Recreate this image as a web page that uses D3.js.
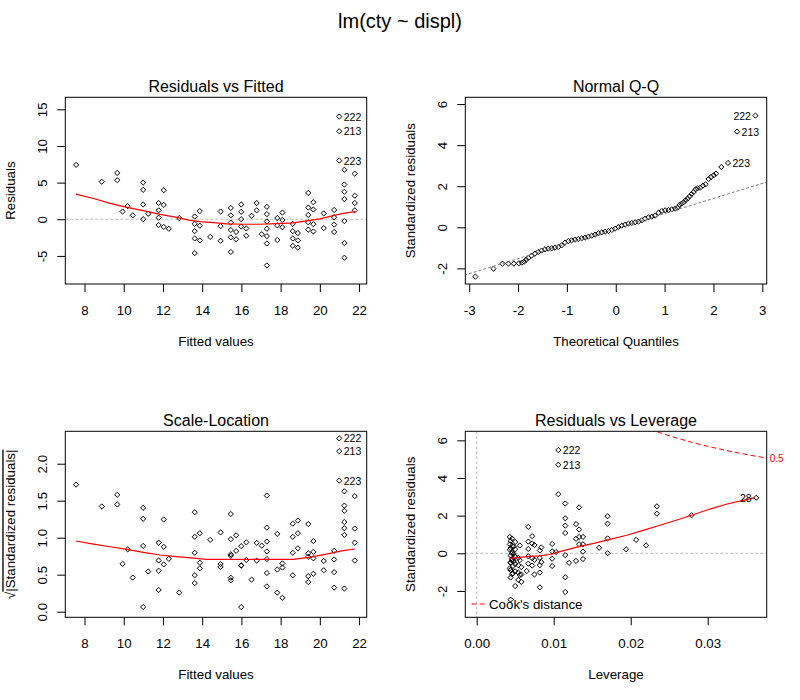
<!DOCTYPE html>
<html><head><meta charset="utf-8">
<script src="https://cdn.jsdelivr.net/npm/d3@7"></script>
<style>body{margin:0;background:#fff}</style>
</head><body><svg id="c" width="800" height="700"></svg>
<script>
// ---- data ----
const fittedCols = [7.57, 8.88, 9.67, 9.94, 10.20, 10.46, 10.99, 11.25, 11.78, 12.04, 12.30, 12.83, 13.62, 13.88, 14.41, 14.94, 15.46, 15.73, 15.99, 16.25, 16.52, 16.78, 17.04, 17.30, 17.83, 18.09, 18.62, 18.88, 19.41, 19.67, 20.20, 20.73, 20.99, 21.25, 21.78];
const leverageCols = [0.0363, 0.0279, 0.0234, 0.0220, 0.0207, 0.0194, 0.0170, 0.0159, 0.0138, 0.0129, 0.0120, 0.0103, 0.0082, 0.0075, 0.0065, 0.0056, 0.0050, 0.0047, 0.0046, 0.0044, 0.0043, 0.0043, 0.0043, 0.0044, 0.0046, 0.0048, 0.0054, 0.0058, 0.0067, 0.0072, 0.0084, 0.0098, 0.0106, 0.0115, 0.0133];
const residualsByCol = [
  [7.43], [5.12], [6.33, 5.33], [1.06], [1.80], [0.54],
  [5.01, 4.01, 2.01, 0.01], [0.75], [2.22, 1.22, 0.22, -0.78], [3.96, 1.96, -1.04], [-1.30], [0.17],
  [0.38, -0.62, -1.62, -2.62, -4.62], [1.12, -0.88, -2.88], [-2.41], [1.06, -0.94, -2.94],
  [1.54, 0.54, -0.46, -1.46, -2.46, -4.46], [-1.73, -2.73], [2.01, 1.01, 0.01, -0.99], [-1.25, -2.25],
  [0.48], [2.22, 1.22], [-2.04], [1.70, 0.70, -0.30, -1.30, -2.30, -3.30, -6.30],
  [0.17, -0.83, -2.83], [0.91, -0.09, -1.09], [-0.62, -1.62, -2.62, -3.62], [-1.88, -2.88, -3.88],
  [3.59, 1.59, 0.59, -0.41, -1.41], [2.33, 1.33, -0.67, -1.67], [0.80, -1.20], [1.27, 0.27, -0.73, -1.73],
  [14.01, 12.01, 8.01], [6.75, 4.75, 3.75, 2.75, -0.25, -3.25, -5.25], [6.22, 3.22, 2.22, 1.22]
];
const sigma = 2.567; // residual standard error
const pointLabels = [ {text:"222", col:32, k:0}, {text:"213", col:32, k:1}, {text:"223", col:32, k:2} ];
const leverageLabels = [ {text:"222", col:32, k:0, side:"r"}, {text:"213", col:32, k:1, side:"r"}, {text:"28", col:0, k:0, side:"l"} ];

const rfSmoothX = [7.56, 8.46, 9.31, 10.16, 11.0, 11.85, 12.70, 13.38, 13.89, 14.74, 15.25, 16.10, 16.95, 17.80, 18.65, 19.32, 20.0, 20.68, 21.19, 21.79];
const rfSmoothY = [3.42, 2.84, 2.16, 1.62, 1.17, 0.68, 0.27, -0.14, -0.32, -0.50, -0.63, -0.68, -0.68, -0.59, -0.50, -0.23, 0.05, 0.50, 0.81, 1.04];
const slSmoothX = [7.56, 8.46, 9.31, 10.16, 11.0, 11.85, 12.70, 13.55, 14.23, 15.25, 16.95, 18.65, 19.15, 19.66, 20.34, 21.19, 21.79];
const slSmoothY = [0.955, 0.914, 0.878, 0.842, 0.802, 0.766, 0.743, 0.725, 0.707, 0.707, 0.707, 0.707, 0.725, 0.743, 0.779, 0.824, 0.847];
const rlSmoothX = [0.0042, 0.0065, 0.0082, 0.0097, 0.0104, 0.0117, 0.0134, 0.0152, 0.0173, 0.0195, 0.0216, 0.0238, 0.0260, 0.0281, 0.0303, 0.0325, 0.0346, 0.0361];
const rlSmoothY = [-0.28, -0.18, -0.14, -0.05, 0.05, 0.18, 0.37, 0.53, 0.74, 0.96, 1.22, 1.49, 1.77, 2.05, 2.35, 2.62, 2.81, 2.96];

const qqTheo = [-2.873, -2.503, -2.319, -2.196, -2.086, -1.984, -1.922, -1.874, -1.833, -1.792, -1.724, -1.655, -1.587, -1.518, -1.450, -1.382, -1.313, -1.245, -1.176, -1.108, -1.040, -0.971, -0.903, -0.834, -0.766, -0.698, -0.629, -0.561, -0.492, -0.424, -0.356, -0.287, -0.219, -0.150, -0.082, -0.014, 0.055, 0.123, 0.192, 0.260, 0.328, 0.397, 0.465, 0.534, 0.602, 0.670, 0.739, 0.807, 0.876, 0.944, 1.012, 1.081, 1.149, 1.218, 1.265, 1.306, 1.347, 1.389, 1.430, 1.471, 1.512, 1.553, 1.594, 1.635, 1.676, 1.731, 1.785, 1.840, 1.902, 1.949, 2.004, 2.052, 2.161, 2.298, 2.483, 2.859];
const qqStd = [-2.403, -2.013, -1.769, -1.769, -1.769, -1.753, -1.721, -1.672, -1.575, -1.494, -1.380, -1.282, -1.201, -1.136, -1.071, -1.039, -1.023, -0.990, -0.958, -0.877, -0.747, -0.666, -0.633, -0.601, -0.568, -0.536, -0.503, -0.455, -0.406, -0.357, -0.292, -0.244, -0.211, -0.179, -0.130, -0.065, 0.016, 0.081, 0.130, 0.179, 0.211, 0.244, 0.276, 0.341, 0.422, 0.487, 0.519, 0.568, 0.714, 0.795, 0.828, 0.844, 0.877, 0.909, 0.958, 1.088, 1.153, 1.218, 1.315, 1.396, 1.510, 1.623, 1.721, 1.851, 1.899, 1.932, 2.029, 2.094, 2.354, 2.451, 2.532, 2.614, 2.938, 3.133, 4.659, 5.438];
const qqLabels = [ {text:"223", i:73, side:"r"}, {text:"213", i:74, side:"r"}, {text:"222", i:75, side:"l"} ];
const qqLineX = [-3.2, 3.2];
const qqLineY = [-2.406, 2.286];

const cookLev = [0.0225, 0.0229, 0.024, 0.026, 0.028, 0.030, 0.032, 0.034, 0.036, 0.0377];
const cookStd = [6.59, 6.53, 6.377, 6.121, 5.892, 5.686, 5.500, 5.330, 5.175, 5.053];

const fittedTicks = [8, 10, 12, 14, 16, 18, 20, 22];
const residTicks = [-5, 0, 5, 10, 15];
const qqXTicks = [-3, -2, -1, 0, 1, 2, 3];
const stdTicks = [-2, 0, 2, 4, 6];
const slTicks = [0, 0.5, 1.0, 1.5, 2.0];
const levTicks = [0, 0.01, 0.02, 0.03];

// ---- drawing ----
const FONT = "'Liberation Sans', Arial, sans-serif";
const svg = d3.select("#c");
svg.append("rect").attr("width", 800).attr("height", 700).attr("fill", "#fff");

const points = [];
residualsByCol.forEach((rs, c) => rs.forEach((r, k) => {
  const h = leverageCols[c];
  const sr = r / (sigma * Math.sqrt(1 - h));
  points.push({c, k, fitted: fittedCols[c], lev: h, resid: r, std: sr, sl: Math.sqrt(Math.abs(sr))});
}));
const findPt = (c, k) => points.find(p => p.c === c && p.k === k);

// R-style formatting (ASCII hyphen minus)
const fmtInt = v => String(v);
const fmt1 = v => v.toFixed(1);
const fmt2 = v => v.toFixed(2);

function diamond(sel, xs, ys) {
  sel.attr("d", "M-2.6,0L0,-2.6L2.6,0L0,2.6Z")
    .attr("transform", d => `translate(${xs(d)},${ys(d)})`)
    .attr("fill", "none").attr("stroke", "#000").attr("stroke-width", 1);
}

let clipId = 0;
function makePanel(p) {
  const x = d3.scaleLinear().domain(p.xDom).range([p.left, p.right]);
  const y = d3.scaleLinear().domain(p.yDom).range([p.bottom, p.top]);
  const g = svg.append("g");
  const id = "clip" + (clipId++);
  svg.append("clipPath").attr("id", id).append("rect")
    .attr("x", p.left).attr("y", p.top).attr("width", p.right - p.left).attr("height", p.bottom - p.top);
  const plot = g.append("g").attr("clip-path", `url(#${id})`);

  const xa = g.append("g").attr("transform", `translate(0,${p.bottom})`)
    .call(d3.axisBottom(x).tickValues(p.xTicks).tickFormat(p.xFmt).tickSize(8).tickSizeOuter(0));
  xa.attr("font-family", FONT).attr("font-size", 13.3);
  xa.select(".domain").remove();
  xa.selectAll("text").attr("y", 30.5).attr("dy", "0").attr("fill", "#000");

  const ya = g.append("g").attr("transform", `translate(${p.left},0)`)
    .call(d3.axisLeft(y).tickValues(p.yTicks).tickFormat(p.yFmt).tickSize(8).tickSizeOuter(0));
  ya.attr("font-family", FONT).attr("font-size", 13.3);
  ya.select(".domain").remove();
  ya.selectAll("text").attr("x", 0).attr("y", -18.5).attr("dy", "0")
    .attr("transform", "rotate(-90)").attr("text-anchor", "middle").attr("fill", "#000");

  g.append("rect").attr("x", p.left).attr("y", p.top).attr("width", p.right - p.left).attr("height", p.bottom - p.top)
    .attr("fill", "none").attr("stroke", "#000").attr("stroke-width", 1);

  g.append("text").attr("x", (p.left + p.right) / 2).attr("y", p.top - 5.5)
    .attr("text-anchor", "middle").attr("font-family", FONT).attr("font-size", 16).text(p.title);
  g.append("text").attr("x", (p.left + p.right) / 2).attr("y", p.bottom + 62)
    .attr("text-anchor", "middle").attr("font-family", FONT).attr("font-size", 13.3).text(p.xLabel);
  const yl = g.append("text").attr("transform", `translate(${p.left - 50},${(p.top + p.bottom) / 2}) rotate(-90)`)
    .attr("text-anchor", "middle").attr("font-family", FONT).attr("font-size", 13.3);
  if (p.sqrtLabel) {
    yl.append("tspan").text("\u221A");
    yl.append("tspan").style("text-decoration", "overline").text(p.yLabel);
  } else yl.text(p.yLabel);
  return {x, y, g, plot};
}

const L1 = 65.3, R1 = 366.7, L2 = 465.3, R2 = 766.7, T1 = 97.3, B1 = 284, T2 = 431.3, B2 = 617.3;
const dotted = "3,2";

// Panel 1: Residuals vs Fitted
{
  const P = makePanel({left: L1, right: R1, top: T1, bottom: B1, xDom: [7.02, 22.39], yDom: [-8.83, 16.64],
    xTicks: fittedTicks, yTicks: residTicks, xFmt: fmtInt, yFmt: fmtInt,
    title: "Residuals vs Fitted", xLabel: "Fitted values", yLabel: "Residuals"});
  P.plot.append("line").attr("x1", L1).attr("x2", R1).attr("y1", P.y(0)).attr("y2", P.y(0))
    .attr("stroke", "#bebebe").attr("stroke-dasharray", dotted);
  P.plot.selectAll("path.pt").data(points).join("path").attr("class", "pt")
    .call(diamond, d => P.x(d.fitted), d => P.y(d.resid));
  P.plot.append("path").datum(rfSmoothX.map((v, i) => [v, rfSmoothY[i]]))
    .attr("d", d3.line().x(d => P.x(d[0])).y(d => P.y(d[1]))).attr("fill", "none").attr("stroke", "red").attr("stroke-width", 1.2);
  pointLabels.forEach(l => {
    const pt = findPt(l.col, l.k);
    P.g.append("text").attr("x", P.x(pt.fitted) + 4.5).attr("y", P.y(pt.resid) + 4)
      .attr("font-family", FONT).attr("font-size", 10.5).text(l.text);
  });
}

// Panel 2: Normal Q-Q
{
  const P = makePanel({left: L2, right: R2, top: T1, bottom: B1, xDom: [-3.08, 3.09], yDom: [-2.76, 6.33],
    xTicks: qqXTicks, yTicks: stdTicks, xFmt: fmtInt, yFmt: fmtInt,
    title: "Normal Q-Q", xLabel: "Theoretical Quantiles", yLabel: "Standardized residuals"});
  const qq = qqTheo.map((v, i) => ({q: v, s: qqStd[i]}));
  P.plot.selectAll("path.pt").data(qq).join("path").attr("class", "pt")
    .call(diamond, d => P.x(d.q), d => P.y(d.s));
  P.plot.append("line").attr("x1", P.x(qqLineX[0])).attr("x2", P.x(qqLineX[1]))
    .attr("y1", P.y(qqLineY[0])).attr("y2", P.y(qqLineY[1]))
    .attr("stroke", "#7f7f7f").attr("stroke-dasharray", dotted);
  qqLabels.forEach(l => {
    const d = qq[l.i];
    P.g.append("text").attr("x", P.x(d.q) + (l.side === "r" ? 4.5 : -4.5)).attr("y", P.y(d.s) + 4)
      .attr("text-anchor", l.side === "r" ? "start" : "end")
      .attr("font-family", FONT).attr("font-size", 10.5).text(l.text);
  });
}

// Panel 3: Scale-Location
{
  const P = makePanel({left: L1, right: R1, top: T2, bottom: B2, xDom: [7.02, 22.39], yDom: [-0.076, 2.438],
    xTicks: fittedTicks, yTicks: slTicks, xFmt: fmtInt, yFmt: fmt1,
    title: "Scale-Location", xLabel: "Fitted values", yLabel: "|Standardized residuals|", sqrtLabel: true});
  P.plot.selectAll("path.pt").data(points).join("path").attr("class", "pt")
    .call(diamond, d => P.x(d.fitted), d => P.y(d.sl));
  P.plot.append("path").datum(slSmoothX.map((v, i) => [v, slSmoothY[i]]))
    .attr("d", d3.line().x(d => P.x(d[0])).y(d => P.y(d[1]))).attr("fill", "none").attr("stroke", "red").attr("stroke-width", 1.2);
  pointLabels.forEach(l => {
    const pt = findPt(l.col, l.k);
    P.g.append("text").attr("x", P.x(pt.fitted) + 4.5).attr("y", P.y(pt.sl) + 4)
      .attr("font-family", FONT).attr("font-size", 10.5).text(l.text);
  });
}

// Panel 4: Residuals vs Leverage
{
  const P = makePanel({left: L2, right: R2, top: T2, bottom: B2, xDom: [-0.00148, 0.03766], yDom: [-3.40, 6.48],
    xTicks: levTicks, yTicks: stdTicks, xFmt: fmt2, yFmt: fmtInt,
    title: "Residuals vs Leverage", xLabel: "Leverage", yLabel: "Standardized residuals"});
  P.plot.append("line").attr("x1", L2).attr("x2", R2).attr("y1", P.y(0)).attr("y2", P.y(0))
    .attr("stroke", "#bebebe").attr("stroke-dasharray", dotted);
  P.plot.append("line").attr("x1", P.x(0)).attr("x2", P.x(0)).attr("y1", T2).attr("y2", B2)
    .attr("stroke", "#bebebe").attr("stroke-dasharray", dotted);
  P.plot.selectAll("path.pt").data(points).join("path").attr("class", "pt")
    .call(diamond, d => P.x(d.lev), d => P.y(d.std));
  P.plot.append("path").datum(rlSmoothX.map((v, i) => [v, rlSmoothY[i]]))
    .attr("d", d3.line().x(d => P.x(d[0])).y(d => P.y(d[1]))).attr("fill", "none").attr("stroke", "red").attr("stroke-width", 1.2);
  P.plot.append("path").datum(cookLev.map((v, i) => [v, cookStd[i]]))
    .attr("d", d3.line().curve(d3.curveMonotoneX).x(d => P.x(d[0])).y(d => P.y(d[1])))
    .attr("fill", "none").attr("stroke", "red").attr("stroke-dasharray", "5,3");
  P.g.append("text").attr("x", R2 + 3).attr("y", P.y(cookStd[cookStd.length - 1]) + 3.5)
    .attr("font-family", FONT).attr("font-size", 10).attr("fill", "red").text("0.5");
  leverageLabels.forEach(l => {
    const pt = findPt(l.col, l.k);
    P.g.append("text").attr("x", P.x(pt.lev) + (l.side === "r" ? 4.5 : -4.5)).attr("y", P.y(pt.std) + 4)
      .attr("text-anchor", l.side === "r" ? "start" : "end")
      .attr("font-family", FONT).attr("font-size", 10.5).text(l.text);
  });
  // legend
  P.g.append("line").attr("x1", 471.7).attr("x2", 485).attr("y1", 604).attr("y2", 604)
    .attr("stroke", "red").attr("stroke-dasharray", "5,3");
  P.g.append("text").attr("x", 489).attr("y", 608.5).attr("font-family", FONT).attr("font-size", 13.3).text("Cook's distance");
}

// outer title
svg.append("text").attr("x", 400).attr("y", 28).attr("text-anchor", "middle")
  .attr("font-family", FONT).attr("font-size", 20).text("lm(cty ~ displ)");
</script>
</body></html>
